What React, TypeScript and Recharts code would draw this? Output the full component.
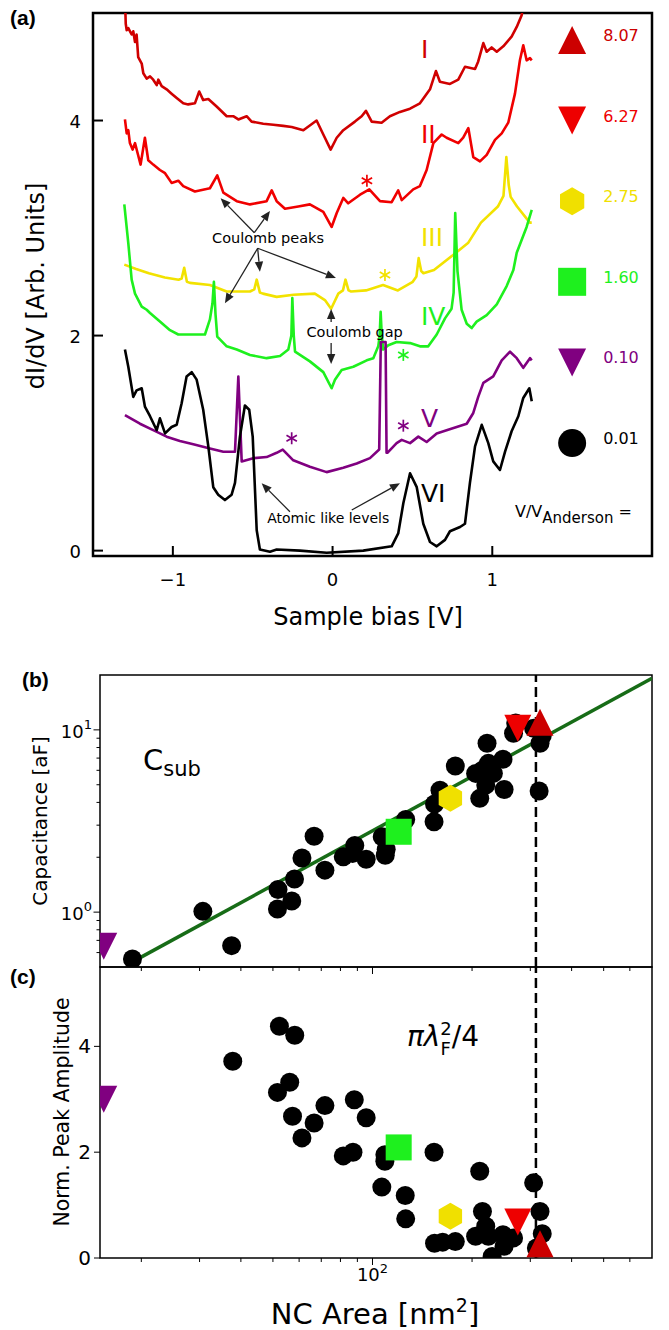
import React from 'react';
import {
  ComposedChart,
  Line,
  Scatter,
  XAxis,
  YAxis,
  ReferenceArea,
  ReferenceDot,
  ReferenceLine,
} from 'recharts';

const FONT = '"DejaVu Sans", Verdana, sans-serif';
const BOLD_FONT = '"Liberation Sans", Arial, sans-serif';

type Pt = [number, number];

// ---------- (a) dI/dV spectra: [sample bias (V), dI/dV (offset, arb.)] ----------
const spectrumI: Pt[] = [
  [-1.3, 5.15], [-1.295, 4.9], [-1.289, 4.84], [-1.279, 4.86], [-1.258, 4.8], [-1.248, 4.83], [-1.237, 4.73],
  [-1.227, 4.8], [-1.217, 4.59], [-1.195, 4.53], [-1.185, 4.44], [-1.164, 4.39], [-1.143, 4.41], [-1.123, 4.38],
  [-1.101, 4.33], [-1.091, 4.38], [-1.07, 4.32], [-1.039, 4.29], [-1.008, 4.25], [-0.976, 4.21], [-0.935, 4.16],
  [-0.904, 4.15], [-0.862, 4.16], [-0.835, 4.27], [-0.81, 4.19], [-0.778, 4.2], [-0.726, 4.13], [-0.663, 4.04],
  [-0.622, 4.04], [-0.59, 4.01], [-0.538, 4.04], [-0.507, 3.99], [-0.434, 3.97], [-0.371, 3.96], [-0.309, 3.95],
  [-0.256, 3.94], [-0.183, 3.91], [-0.1, 4.0], [-0.058, 3.87], [-0.012, 3.73], [0.026, 3.84], [0.067, 3.91],
  [0.14, 3.99], [0.182, 4.04], [0.209, 4.09], [0.245, 3.99], [0.307, 3.98], [0.359, 4.04], [0.422, 4.08],
  [0.485, 4.11], [0.547, 4.16], [0.61, 4.29], [0.647, 4.46], [0.672, 4.36], [0.735, 4.34], [0.787, 4.38],
  [0.829, 4.5], [0.892, 4.48], [0.912, 4.55], [0.944, 4.72], [0.965, 4.64], [0.996, 4.68], [1.028, 4.64],
  [1.069, 4.69], [1.121, 4.78], [1.153, 4.87], [1.184, 4.98], [1.22, 5.3], [1.25, 5.6],
];
const spectrumII: Pt[] = [
  [-1.3, 4.01], [-1.289, 3.88], [-1.279, 3.91], [-1.269, 3.79], [-1.252, 3.73], [-1.237, 3.79], [-1.223, 3.71],
  [-1.202, 3.59], [-1.175, 3.84], [-1.154, 3.63], [-1.123, 3.59], [-1.081, 3.54], [-1.049, 3.51], [-1.008, 3.42],
  [-0.966, 3.44], [-0.935, 3.39], [-0.862, 3.34], [-0.768, 3.37], [-0.722, 3.49], [-0.684, 3.33], [-0.6, 3.25],
  [-0.517, 3.22], [-0.413, 3.25], [-0.381, 3.35], [-0.35, 3.25], [-0.298, 3.18], [-0.215, 3.2], [-0.142, 3.22],
  [-0.058, 3.15], [-0.006, 3.01], [0.026, 3.14], [0.067, 3.28], [0.098, 3.23], [0.172, 3.31], [0.23, 3.36],
  [0.297, 3.25], [0.37, 3.24], [0.411, 3.35], [0.433, 3.26], [0.505, 3.36], [0.547, 3.39], [0.589, 3.54],
  [0.631, 3.79], [0.683, 3.87], [0.714, 3.84], [0.787, 3.79], [0.818, 3.84], [0.85, 3.93], [0.881, 3.66],
  [0.923, 3.62], [0.965, 3.68], [1.017, 3.82], [1.059, 3.88], [1.1, 3.98], [1.142, 4.25], [1.173, 4.56],
  [1.194, 4.7], [1.215, 4.56], [1.236, 4.58], [1.247, 4.56],
];
const spectrumIII: Pt[] = [
  [-1.304, 2.66], [-1.23, 2.62], [-1.15, 2.58], [-1.05, 2.54], [-0.964, 2.52], [-0.945, 2.53], [-0.929, 2.63],
  [-0.912, 2.5], [-0.893, 2.49], [-0.768, 2.47], [-0.663, 2.41], [-0.517, 2.41], [-0.49, 2.43], [-0.475, 2.52],
  [-0.455, 2.4], [-0.436, 2.39], [-0.35, 2.36], [-0.244, 2.38], [-0.111, 2.39], [-0.048, 2.33], [-0.009, 2.25],
  [0.036, 2.39], [0.065, 2.42], [0.081, 2.52], [0.1, 2.42], [0.116, 2.41], [0.209, 2.42], [0.316, 2.47],
  [0.409, 2.42], [0.502, 2.5], [0.525, 2.55], [0.539, 2.72], [0.555, 2.6], [0.569, 2.58], [0.635, 2.61],
  [0.755, 2.75], [0.848, 2.86], [0.929, 3.05], [1.035, 3.2], [1.07, 3.3], [1.088, 3.66], [1.103, 3.4],
  [1.115, 3.29], [1.155, 3.2], [1.235, 3.05], [1.247, 3.05],
];
const spectrumIV: Pt[] = [
  [-1.304, 3.22], [-1.279, 2.86], [-1.258, 2.52], [-1.237, 2.39], [-1.195, 2.27], [-1.164, 2.24], [-1.143, 2.21],
  [-1.081, 2.13], [-1.018, 2.05], [-0.966, 2.01], [-0.872, 2.01], [-0.799, 2.01], [-0.768, 2.15], [-0.752, 2.3],
  [-0.743, 2.5], [-0.733, 2.2], [-0.722, 1.99], [-0.663, 1.9], [-0.6, 1.87], [-0.517, 1.82], [-0.413, 1.79],
  [-0.329, 1.81], [-0.277, 1.87], [-0.258, 2.0], [-0.252, 2.35], [-0.243, 2.0], [-0.235, 1.85], [-0.142, 1.76],
  [-0.058, 1.66], [-0.006, 1.51], [0.015, 1.59], [0.057, 1.68], [0.13, 1.71], [0.214, 1.77], [0.255, 1.79],
  [0.286, 1.9], [0.295, 2.0], [0.301, 2.22], [0.308, 2.0], [0.317, 1.87], [0.349, 1.91], [0.401, 1.94],
  [0.485, 1.93], [0.547, 1.9], [0.599, 1.9], [0.652, 2.01], [0.704, 2.16], [0.745, 2.25], [0.758, 2.4],
  [0.768, 3.14], [0.782, 2.6], [0.808, 2.24], [0.84, 2.11], [0.871, 2.07], [0.902, 2.13], [0.965, 2.19],
  [1.028, 2.29], [1.09, 2.46], [1.132, 2.61], [1.153, 2.77], [1.215, 3.01], [1.247, 3.17],
];
const spectrumV: Pt[] = [
  [-1.3, 1.26], [-1.206, 1.18], [-1.123, 1.12], [-1.039, 1.06], [-0.956, 1.02], [-0.872, 0.99], [-0.768, 0.95],
  [-0.684, 0.92], [-0.611, 0.92], [-0.59, 1.62], [-0.569, 0.83], [-0.497, 0.86], [-0.413, 0.87], [-0.35, 0.91],
  [-0.312, 0.94], [-0.246, 0.84], [-0.142, 0.78], [-0.037, 0.73], [0.067, 0.77], [0.151, 0.81], [0.234, 0.86],
  [0.292, 0.94], [0.302, 1.94], [0.332, 1.94], [0.338, 0.91], [0.343, 0.91], [0.401, 1.0], [0.433, 1.03],
  [0.485, 1.0], [0.537, 1.06], [0.589, 1.01], [0.652, 1.09], [0.714, 1.12], [0.777, 1.15], [0.84, 1.18],
  [0.881, 1.28], [0.912, 1.43], [0.944, 1.56], [1.006, 1.62], [1.059, 1.77], [1.111, 1.85], [1.153, 1.79],
  [1.194, 1.7], [1.236, 1.79], [1.247, 1.77],
];
const spectrumVI: Pt[] = [
  [-1.3, 1.87], [-1.279, 1.71], [-1.248, 1.43], [-1.227, 1.49], [-1.195, 1.51], [-1.175, 1.34], [-1.143, 1.25],
  [-1.101, 1.12], [-1.081, 1.23], [-1.049, 1.09], [-1.008, 1.15], [-0.976, 1.17], [-0.945, 1.37], [-0.914, 1.62],
  [-0.882, 1.66], [-0.851, 1.59], [-0.81, 1.31], [-0.778, 0.97], [-0.747, 0.59], [-0.716, 0.52], [-0.674, 0.47],
  [-0.632, 0.52], [-0.611, 0.63], [-0.58, 1.06], [-0.549, 1.35], [-0.522, 1.31], [-0.5, 1.06], [-0.475, 0.19],
  [-0.455, 0.01], [-0.392, -0.01], [-0.35, 0.01], [-0.204, 0.0], [-0.037, -0.02], [0.192, 0.0], [0.37, 0.04],
  [0.411, 0.16], [0.443, 0.44], [0.485, 0.72], [0.527, 0.59], [0.568, 0.25], [0.61, 0.08], [0.652, 0.04],
  [0.704, 0.1], [0.735, 0.18], [0.798, 0.22], [0.829, 0.25], [0.86, 0.63], [0.892, 0.97], [0.934, 1.17],
  [0.975, 1.0], [1.006, 0.83], [1.048, 0.75], [1.08, 0.92], [1.121, 1.11], [1.163, 1.25], [1.194, 1.42],
  [1.232, 1.51], [1.247, 1.39],
];

const spectrumNames = ['I', 'II', 'III', 'IV', 'V', 'VI'];
const spectrumData = [spectrumI, spectrumII, spectrumIII, spectrumIV, spectrumV, spectrumVI];
const andersonRatios = ['8.07', '6.27', '2.75', '1.60', '0.10', '0.01'];

const biasTicks = [-1, 0, 1];
const didvTicks = [0, 2, 4];

// ---------- (b) capacitance vs NC area ----------
const capArea = [
  18.8, 30.7, 37.5, 51.6, 51.8, 57.0, 58.1, 61.2, 66.6, 71.8, 81.6, 87.1, 88.4, 95.7, 107, 109.3, 110,
  126, 153.5, 154, 160, 178, 205, 211, 215.5, 220, 222, 224, 232, 248, 250, 267, 271, 307, 319, 321, 326,
];
const capValue = [
  0.553, 1.01, 0.655, 1.04, 1.33, 1.15, 1.52, 1.98, 2.61, 1.7, 2.01, 2.1, 2.32, 1.95, 2.59, 2.05, 2.21,
  3.22, 3.13, 3.92, 4.67, 6.34, 5.77, 4.21, 6.02, 4.98, 8.45, 6.55, 5.77, 6.9, 4.71, 9.59, 10.9, 10.2, 4.62, 8.45, 9.27,
];
const fitArea = [18.5, 700];
const fitCap = [0.525, 19.2];

// ---------- (c) normalised peak amplitude vs NC area ----------
const ampArea = [
  37.8, 52.3, 58.2, 56.2, 51.6, 57.3, 66.6, 61.2, 71.8, 88.1, 95.7, 81.6, 87.3, 109, 109, 106.7, 125.6, 126,
  153.5, 211, 154, 163, 178, 205, 215, 220, 224, 230, 248, 250, 267, 307, 321, 326, 313,
];
const ampValue = [
  3.72, 4.38, 4.21, 3.32, 3.13, 2.68, 2.55, 2.27, 2.88, 2.99, 2.65, 1.93, 2.0, 1.95, 1.83, 1.34, 1.18, 0.74,
  2.0, 1.64, 0.28, 0.3, 0.31, 0.41, 0.88, 0.6, 0.41, 0.03, 0.44, 0.22, 0.38, 1.42, 0.88, 0.46, 0.19,
];

// NCs of spectra I..V in panels (b) and (c)
const spectraNcArea = [321, 275, 172, 120, 15.4];
const spectraNcCap = [11.0, 10.2, 4.21, 2.76, 0.65];
const spectraNcAmp = [0.27, 0.68, 0.79, 2.09, 3.0];

const fermiArea = 312; // pi lambda_F^2 / 4
const areaTicks = [20, 30, 40, 50, 60, 70, 80, 90, 100, 200, 300, 400, 500, 600];
const capTicks = [0.6, 0.7, 0.8, 0.9, 1, 2, 3, 4, 5, 6, 7, 8, 9, 10];
const ampTicks = [0, 2, 4];

// ---------- styles ----------
const colors = ['#cc0000', '#ee0000', '#f0e000', '#1ef01e', '#800080', '#000000'];
const curveColors = ['#d00000', '#f00000', '#f2e200', '#1ef01e', '#800080', '#000000'];
const markerKinds = ['up', 'down', 'hex', 'square', 'down', 'circle'];
const legendY = [4.75, 4.0, 3.25, 2.5, 1.75, 1.0];
const NC_PLOT_LEFT = 100; // left edge of the (b)/(c) plot area, used to clip edge markers

const toXY = (pts: Pt[]) => pts.map(([x, y]) => ({ x, y }));
const zip = (xs: number[], ys: number[]) => xs.map((x, i) => ({ x, y: ys[i] }));

function marker(kind: string, cx: number, cy: number, color: string, size: number) {
  const h = size / 2;
  if (kind === 'up') return <polygon points={`${cx},${cy - h} ${cx - h},${cy + h} ${cx + h},${cy + h}`} fill={color} />;
  if (kind === 'down') return <polygon points={`${cx - h},${cy - h} ${cx + h},${cy - h} ${cx},${cy + h}`} fill={color} />;
  if (kind === 'square') return <rect x={cx - h} y={cy - h} width={size} height={size} fill={color} />;
  if (kind === 'hex') {
    const w = (h * Math.sqrt(3)) / 2;
    return (
      <polygon
        points={`${cx},${cy - h} ${cx + w},${cy - h / 2} ${cx + w},${cy + h / 2} ${cx},${cy + h} ${cx - w},${cy + h / 2} ${cx - w},${cy - h / 2}`}
        fill={color}
      />
    );
  }
  return <circle cx={cx} cy={cy} r={h} fill={color} />;
}

// marker clipped at the left frame of the NC panels
const ncMarker = (i: number, id: string) => (p: any) => (
  <g>
    <defs>
      <clipPath id={id}>
        <rect x={NC_PLOT_LEFT} y={0} width={600} height={400} />
      </clipPath>
    </defs>
    <g clipPath={`url(#${id})`}>{marker(markerKinds[i], p.cx, p.cy, colors[i], i === 3 ? 26 : 27)}</g>
  </g>
);

const arrowShape = (p: any) => {
  const { x1, y1, x2, y2 } = p;
  const len = Math.hypot(x2 - x1, y2 - y1) || 1;
  const ux = (x2 - x1) / len;
  const uy = (y2 - y1) / len;
  const bx = x2 - ux * 10;
  const by = y2 - uy * 10;
  return (
    <g>
      <line x1={x1} y1={y1} x2={bx} y2={by} stroke="#222" strokeWidth={1.3} />
      <polygon points={`${x2},${y2} ${bx - uy * 4.2},${by + ux * 4.2} ${bx + uy * 4.2},${by - ux * 4.2}`} fill="#222" />
    </g>
  );
};

const asteriskShape = (color: string) => (p: any) => (
  <g stroke={color} strokeWidth={1.7}>
    <line x1={p.cx} y1={p.cy - 6} x2={p.cx} y2={p.cy + 6} />
    <line x1={p.cx - 5.2} y1={p.cy - 3} x2={p.cx + 5.2} y2={p.cy + 3} />
    <line x1={p.cx - 5.2} y1={p.cy + 3} x2={p.cx + 5.2} y2={p.cy - 3} />
  </g>
);

const textShape = (content: React.ReactNode, color: string, size: number, anchor = 'start') => (p: any) => (
  <text x={p.cx} y={p.cy} fill={color} fontSize={size} fontFamily={FONT} textAnchor={anchor}>
    {content}
  </text>
);

// ---------- ticks ----------
const BiasTick = (p: any) => {
  const v = p.payload.value;
  return (
    <g>
      <line x1={p.x} y1={p.y} x2={p.x} y2={p.y - 10} stroke="#000" strokeWidth={2} />
      <text x={p.x} y={p.y + 30} textAnchor="middle" fontSize={18} fontFamily={FONT} fill="#000">
        {v < 0 ? `\u2212${-v}` : `${v}`}
      </text>
    </g>
  );
};

const DidvTick = (p: any) => (
  <g>
    <line x1={p.x} y1={p.y} x2={p.x + 10} y2={p.y} stroke="#000" strokeWidth={2} />
    <text x={p.x - 12} y={p.y + 7} textAnchor="end" fontSize={18} fontFamily={FONT} fill="#000">
      {p.payload.value}
    </text>
  </g>
);

const areaTick = (showLabel: boolean) => (p: any) => {
  const major = p.payload.value === 100;
  return (
    <g>
      <line x1={p.x} y1={p.y} x2={p.x} y2={p.y + (major ? 7 : 4)} stroke="#000" strokeWidth={1} />
      {showLabel && major && (
        <text x={p.x} y={p.y + 23} textAnchor="middle" fontSize={18} fontFamily={FONT} fill="#000">
          10<tspan fontSize={13} dy={-8}>2</tspan>
        </text>
      )}
    </g>
  );
};

const CapTick = (p: any) => {
  const v = p.payload.value;
  const major = v === 1 || v === 10;
  return (
    <g>
      <line x1={p.x} y1={p.y} x2={p.x - (major ? 6.5 : 3.5)} y2={p.y} stroke="#000" strokeWidth={1} />
      {major && (
        <text x={p.x - 8} y={p.y + 8} textAnchor="end" fontSize={18} fontFamily={FONT} fill="#000">
          10<tspan fontSize={13} dy={-9}>{v === 1 ? '0' : '1'}</tspan>
        </text>
      )}
    </g>
  );
};

const AmpTick = (p: any) => (
  <g>
    <line x1={p.x} y1={p.y} x2={p.x - 6} y2={p.y} stroke="#000" strokeWidth={1} />
    <text x={p.x - 9} y={p.y + 7} textAnchor="end" fontSize={20} fontFamily={FONT} fill="#000">
      {p.payload.value}
    </text>
  </g>
);

// ---------- panels ----------
function SpectraPanel() {
  const arrows: [number, number, number, number][] = [
    [-0.49, 2.957, -0.701, 3.277],
    [-0.49, 2.957, -0.392, 3.159],
    [-0.469, 2.812, -0.674, 2.3],
    [-0.469, 2.812, -0.455, 2.594],
    [-0.469, 2.812, 0.021, 2.536],
    [-0.009, 2.127, -0.009, 2.247],
    [-0.009, 1.931, -0.009, 1.736],
    [-0.267, 0.362, -0.444, 0.626],
    [0.12, 0.378, 0.422, 0.626],
  ];
  const labelY = [4.58, 3.79, 2.83, 2.1, 1.153, 0.455];
  const stars: [number, number, string][] = [
    [0.215, 3.44, curveColors[1]],
    [0.328, 2.564, curveColors[2]],
    [0.443, 1.82, curveColors[3]],
    [-0.256, 1.045, curveColors[4]],
    [0.443, 1.162, curveColors[4]],
  ];
  return (
    <ComposedChart width={669} height={640} margin={{ top: 13, right: 17, bottom: 0, left: 0 }}>
      <XAxis type="number" dataKey="x" domain={[-1.5, 2]} allowDataOverflow ticks={biasTicks} interval={0}
        height={84} tickSize={0} tickMargin={0} axisLine={false} tickLine={false} tick={BiasTick} />
      <YAxis type="number" dataKey="y" domain={[-0.05, 5]} allowDataOverflow ticks={didvTicks} interval={0}
        width={93} tickSize={0} tickMargin={0} axisLine={false} tickLine={false} tick={DidvTick} />
      <ReferenceArea x1={-1.5} x2={2} y1={-0.05} y2={5} fill="none" stroke="#000" strokeWidth={2.5} />
      {spectrumData.map((pts, i) => (
        <Line key={spectrumNames[i]} data={toXY(pts)} dataKey="y" type="linear" stroke={curveColors[i]}
          strokeWidth={2.6} strokeLinejoin="round" dot={false} activeDot={false} isAnimationActive={false} />
      ))}
      {spectrumNames.map((n, i) => (
        <ReferenceDot key={`lab${n}`} x={0.553} y={labelY[i]} r={0} ifOverflow="visible"
          shape={textShape(n, curveColors[i], 25)} />
      ))}
      {stars.map(([x, y, c], i) => (
        <ReferenceDot key={`star${i}`} x={x} y={y} r={0} ifOverflow="visible" shape={asteriskShape(c)} />
      ))}
      {arrows.map(([xa, ya, xb, yb], i) => (
        <ReferenceLine key={`arr${i}`} segment={[{ x: xa, y: ya }, { x: xb, y: yb }]} ifOverflow="visible" shape={arrowShape} />
      ))}
      <ReferenceDot x={-0.404} y={2.861} r={0} ifOverflow="visible" shape={textShape('Coulomb peaks', '#000', 14.5, 'middle')} />
      <ReferenceDot x={0.138} y={1.987} r={0} ifOverflow="visible" shape={textShape('Coulomb gap', '#000', 14.5, 'middle')} />
      <ReferenceDot x={-0.027} y={0.254} r={0} ifOverflow="visible" shape={textShape('Atomic like levels', '#000', 14, 'middle')} />
      {andersonRatios.map((r, i) => (
        <ReferenceDot key={`leg${r}`} x={1.5} y={legendY[i]} r={0} ifOverflow="visible"
          shape={(p: any) => (
            <g>
              {marker(markerKinds[i], p.cx, p.cy, colors[i], 28)}
              <text x={p.cx + 31} y={p.cy + 1} fill={colors[i]} fontSize={16} fontFamily={FONT}>{r}</text>
            </g>
          )} />
      ))}
      <ReferenceDot x={1.142} y={0.317} r={0} ifOverflow="visible"
        shape={textShape(<>V/V<tspan fontSize={15} dy={6.5}>Anderson</tspan><tspan dy={-6.5}> =</tspan></>, '#000', 16)} />
    </ComposedChart>
  );
}

function CapacitancePanel() {
  return (
    <ComposedChart width={669} height={327} margin={{ top: 15, right: 17, bottom: 0, left: 0 }}>
      <XAxis type="number" dataKey="x" scale="log" domain={[15, 700]} allowDataOverflow ticks={areaTicks} interval={0}
        height={20} tickSize={0} tickMargin={0} axisLine={false} tickLine={false} tick={areaTick(false)} />
      <YAxis type="number" dataKey="y" scale="log" domain={[0.5, 20]} allowDataOverflow ticks={capTicks} interval={0}
        width={100} tickSize={0} tickMargin={0} axisLine={false} tickLine={false} tick={CapTick} />
      <Line data={zip(fitArea, fitCap)} dataKey="y" type="linear" stroke="#176c17" strokeWidth={3.5}
        dot={false} activeDot={false} isAnimationActive={false} />
      <Scatter data={zip(capArea, capValue)} isAnimationActive={false}
        shape={(p: any) => <circle cx={p.cx} cy={p.cy} r={9.5} fill="#000" />} />
      {spectraNcArea.map((a, i) => (
        <Scatter key={`nc${i}`} data={[{ x: a, y: spectraNcCap[i] }]} isAnimationActive={false}
          shape={ncMarker(i, `clipB${i}`)} />
      ))}
      <ReferenceLine x={fermiArea} stroke="#000" strokeWidth={2.5} strokeDasharray="10 5" />
      <ReferenceArea x1={15} x2={700} y1={0.5} y2={20} fill="none" stroke="#000" strokeWidth={1.5} />
    </ComposedChart>
  );
}

function AmplitudePanel() {
  return (
    <ComposedChart width={669} height={380} margin={{ top: 17, right: 17, bottom: 0, left: 0 }}>
      <XAxis type="number" dataKey="x" scale="log" domain={[15, 700]} allowDataOverflow ticks={areaTicks} interval={0}
        height={72} tickSize={0} tickMargin={0} axisLine={false} tickLine={false} tick={areaTick(true)} />
      <YAxis type="number" dataKey="y" domain={[0, 5.5]} allowDataOverflow ticks={ampTicks} interval={0}
        width={100} tickSize={0} tickMargin={0} axisLine={false} tickLine={false} tick={AmpTick} />
      <Scatter data={zip(ampArea, ampValue)} isAnimationActive={false}
        shape={(p: any) => <circle cx={p.cx} cy={p.cy} r={9.5} fill="#000" />} />
      {spectraNcArea.map((a, i) => (
        <Scatter key={`nc${i}`} data={[{ x: a, y: spectraNcAmp[i] }]} isAnimationActive={false}
          shape={ncMarker(i, `clipC${i}`)} />
      ))}
      <ReferenceLine x={fermiArea} stroke="#000" strokeWidth={2.5} strokeDasharray="10 5" />
      <ReferenceArea x1={15} x2={700} y1={0} y2={5.5} fill="none" stroke="#000" strokeWidth={1.5} />
    </ComposedChart>
  );
}

export default function App() {
  return (
    <div style={{ position: 'absolute', left: 0, top: 0, width: 669, height: 1330, background: '#fff', fontFamily: FONT }}>
      <div style={{ position: 'absolute', left: 0, top: 0 }}>
        <SpectraPanel />
      </div>
      <div style={{ position: 'absolute', left: 0, top: 660 }}>
        <CapacitancePanel />
      </div>
      <div style={{ position: 'absolute', left: 0, top: 950 }}>
        <AmplitudePanel />
      </div>
      <svg width={669} height={1330} style={{ position: 'absolute', left: 0, top: 0, pointerEvents: 'none' }}
        fontFamily={FONT} fill="#000">
        <text x={10} y={25} fontFamily={BOLD_FONT} fontWeight="bold" fontSize={21}>(a)</text>
        <text x={22} y={687} fontFamily={BOLD_FONT} fontWeight="bold" fontSize={21}>(b)</text>
        <text x={10} y={984} fontFamily={BOLD_FONT} fontWeight="bold" fontSize={21}>(c)</text>
        <text transform="translate(44,286) rotate(-90)" textAnchor="middle" fontSize={24}>dI/dV [Arb. Units]</text>
        <text x={368} y={625} textAnchor="middle" fontSize={24}>Sample bias [V]</text>
        <text transform="translate(47,821) rotate(-90)" textAnchor="middle" fontSize={20}>Capacitance [aF]</text>
        <text x={143} y={770} fontSize={29}>C<tspan fontSize={21} dy={6}>sub</tspan></text>
        <text transform="translate(69,1112) rotate(-90)" textAnchor="middle" fontSize={20.5}>Norm. Peak Amplitude</text>
        <text x={407} y={1046} fontSize={28}>
          <tspan fontStyle="italic">πλ</tspan>
          <tspan fontSize={18} dy={9}>F</tspan>
          <tspan fontSize={18} dx={-10.5} dy={-20}>2</tspan>
          <tspan dy={11}>/4</tspan>
        </text>
        <text x={375} y={1324} textAnchor="middle" fontSize={29}>
          NC Area [nm<tspan fontSize={19} dy={-12}>2</tspan><tspan dy={12}>]</tspan>
        </text>
      </svg>
    </div>
  );
}
